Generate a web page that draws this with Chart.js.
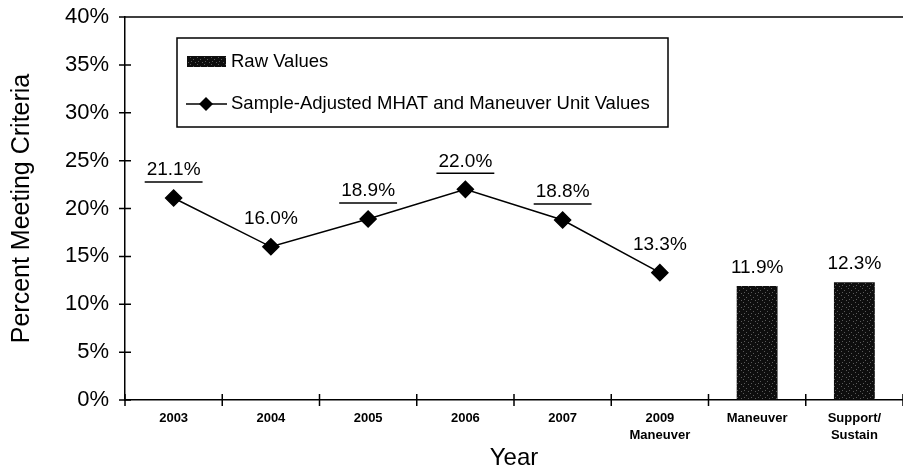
<!DOCTYPE html>
<html>
<head>
<meta charset="utf-8">
<script src="https://cdn.jsdelivr.net/npm/chart.js@4.4.1/dist/chart.umd.min.js"></script>
<style>
  html, body { margin: 0; padding: 0; background: #fff; }
</style>
</head>
<body>
<canvas id="chart" width="903" height="473"></canvas>
<script>
// chart data
const categories = ['2003', '2004', '2005', '2006', '2007', ['2009', 'Maneuver'], 'Maneuver', ['Support/', 'Sustain']];
const adjustedValues = [21.1, 16.0, 18.9, 22.0, 18.8, 13.3, null, null];
const rawValues = [null, null, null, null, null, null, 11.9, 12.3];
const underlined = [true, false, true, true, true, false, false, false];
const yMax = 40;
const yStep = 5;

const FONT = '"Liberation Sans", Arial, sans-serif';

// dark speckled fill like the scanned bars
function speckle() {
    const p = document.createElement('canvas');
    p.width = 7; p.height = 7;
    const g = p.getContext('2d');
    g.fillStyle = '#0e0e0e';
    g.fillRect(0, 0, 7, 7);
    g.fillStyle = '#5a5a5a';
    [[1, 1], [4, 3], [2, 5], [6, 6]].forEach(([x, y]) => g.fillRect(x, y, 1, 1));
    return g.createPattern(p, 'repeat');
}
const barFill = speckle();

const decor = {
    id: 'decor',
    afterDatasetsDraw(chart) {
        const { ctx, chartArea: a, scales: { x, y } } = chart;
        ctx.save();
        ctx.strokeStyle = '#000';
        ctx.lineWidth = 1.5;

        // top frame line
        ctx.beginPath();
        ctx.moveTo(a.left, a.top);
        ctx.lineTo(chart.width, a.top);
        // crossing tick marks
        y.ticks.forEach(t => {
            const py = y.getPixelForValue(t.value);
            ctx.moveTo(a.left - 6, py);
            ctx.lineTo(a.left + 6, py);
        });
        for (let i = 0; i <= categories.length; i++) {
            const px = x.getPixelForValue(i - 0.5);
            ctx.moveTo(px, a.bottom - 6);
            ctx.lineTo(px, a.bottom + 6);
        }
        ctx.stroke();

        // value labels
        ctx.fillStyle = '#000';
        ctx.font = '19px ' + FONT;
        ctx.textAlign = 'center';
        ctx.textBaseline = 'middle';
        const lineMeta = chart.getDatasetMeta(0);
        lineMeta.data.forEach((pt, i) => {
            const v = adjustedValues[i];
            if (v == null) return;
            const txt = v.toFixed(1) + '%';
            const ly = pt.y - 28;
            ctx.fillText(txt, pt.x, ly);
            if (underlined[i]) {
                const w = ctx.measureText(txt).width;
                ctx.beginPath();
                ctx.moveTo(pt.x - w / 2 - 2, ly + 12);
                ctx.lineTo(pt.x + w / 2 + 2, ly + 12);
                ctx.stroke();
            }
        });
        const barMeta = chart.getDatasetMeta(1);
        barMeta.data.forEach((bar, i) => {
            const v = rawValues[i];
            if (v == null) return;
            ctx.fillText(v.toFixed(1) + '%', bar.x, bar.y - 18);
        });

        // legend box
        ctx.lineWidth = 1.5;
        ctx.strokeRect(177, 38, 491, 89);
        ctx.fillStyle = barFill;
        ctx.fillRect(187, 56, 39, 11);
        ctx.fillStyle = '#000';
        ctx.textAlign = 'left';
        ctx.font = '18.5px ' + FONT;
        ctx.fillText('Raw Values', 231, 62);
        ctx.beginPath();
        ctx.moveTo(186, 104);
        ctx.lineTo(227, 104);
        ctx.stroke();
        ctx.beginPath();
        ctx.moveTo(206, 97); ctx.lineTo(213, 104); ctx.lineTo(206, 111); ctx.lineTo(199, 104);
        ctx.closePath();
        ctx.fill();
        ctx.fillText('Sample-Adjusted MHAT and Maneuver Unit Values', 231, 104);
        ctx.restore();
    }
};

new Chart(document.getElementById('chart'), {
    data: {
        labels: categories,
        datasets: [
            {
                type: 'line',
                label: 'Sample-Adjusted MHAT and Maneuver Unit Values',
                data: adjustedValues,
                borderColor: '#000',
                borderWidth: 1.5,
                pointStyle: 'rectRot',
                pointRadius: 8,
                pointBackgroundColor: '#000',
                pointBorderColor: '#000',
                tension: 0
            },
            {
                type: 'bar',
                label: 'Raw Values',
                data: rawValues,
                backgroundColor: barFill,
                borderWidth: 0,
                barPercentage: 0.42,
                categoryPercentage: 1
            }
        ]
    },
    options: {
        responsive: false,
        animation: false,
        devicePixelRatio: 1,
        layout: { autoPadding: false, padding: { left: 0, right: 0, top: 17, bottom: 0 } },
        plugins: { legend: { display: false }, tooltip: { enabled: false } },
        scales: {
            x: {
                offset: true,
                grid: { display: false, drawTicks: false },
                border: { display: true, color: '#000', width: 1.5 },
                ticks: {
                    color: '#000',
                    font: { family: FONT, size: 13, weight: 'bold', lineHeight: 1.3 },
                    padding: 10,
                    maxRotation: 0,
                    autoSkip: false
                },
                title: {
                    display: true,
                    text: 'Year',
                    color: '#000',
                    font: { family: FONT, size: 24 },
                    padding: { top: 0, bottom: 0 }
                },
                afterFit(s) {
                    s.height = 73;
                    s.paddingLeft = 0;
                    s.paddingRight = 0;
                }
            },
            y: {
                min: 0,
                max: yMax,
                grid: { drawOnChartArea: false, drawTicks: false },
                border: { display: true, color: '#000', width: 1.5 },
                ticks: {
                    stepSize: yStep,
                    color: '#000',
                    font: { family: FONT, size: 22 },
                    padding: 16,
                    callback: v => v + '%'
                },
                title: {
                    display: true,
                    text: 'Percent Meeting Criteria',
                    color: '#000',
                    font: { family: FONT, size: 25 },
                    padding: { top: 7, bottom: 0 }
                },
                afterFit(s) {
                    s.width = 125;
                    s.paddingTop = 0;
                    s.paddingBottom = 0;
                }
            }
        }
    },
    plugins: [decor]
});
</script>
</body>
</html>
